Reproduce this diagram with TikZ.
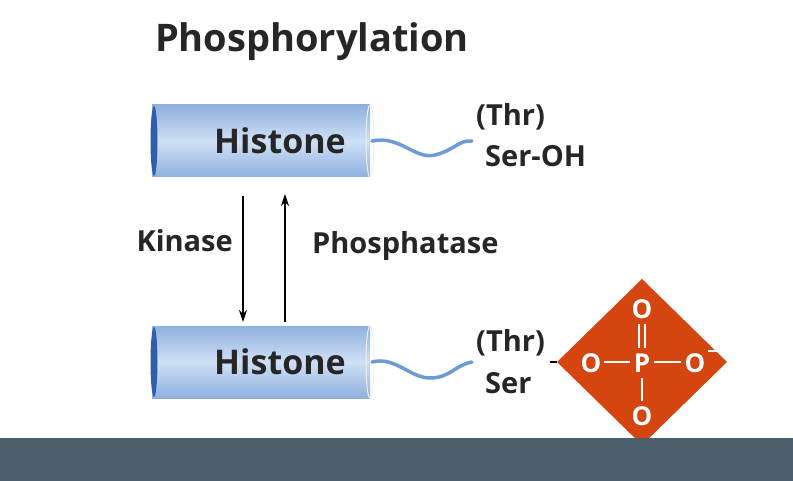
\documentclass[tikz,border=0pt]{standalone}
\usepackage{fontspec}
\setmainfont{Open Sans}
\usetikzlibrary{arrows.meta}
\definecolor{cylA}{HTML}{8FB0DE}
\definecolor{cylB}{HTML}{CFE0F6}
\definecolor{cylEnd}{HTML}{2F5FA8}
\definecolor{tailc}{HTML}{6E9AD6}
\definecolor{phos}{HTML}{D4450F}
\definecolor{barc}{HTML}{4E5D6C}
\tikzset{
  lbl/.style={font=\fontsize{29}{32}\selectfont\bfseries, text=black!85, inner sep=0pt},
  tail/.style={line width=3.5pt, color=tailc, line cap=round},
  arr/.style={line width=1.5pt, -{Stealth[length=12pt,width=8pt]}},
  wt/.style={text=white, font=\fontsize{26}{28}\selectfont\bfseries, inner sep=0pt}
}
\newcommand{\histone}[2]{%
  \shade[top color=cylA, bottom color=cylA, middle color=cylB] (152,#1-36) rectangle (370,#1+36);
  \draw[white!80!cylA, line width=1pt] (370,#1) ellipse (4 and 36);
  \fill[cylEnd] (154,#1) ellipse (3.5 and 35);
  \node[lbl, font=\fontsize{34}{36}\selectfont\bfseries] (#2) at (280,#1) {Histone};
}
\begin{document}
\begin{tikzpicture}[x=1pt,y=-1pt]
\useasboundingbox (0,0) rectangle (793,481);
\fill[white] (0,0) rectangle (793,481);
\node[lbl, font=\fontsize{38}{42}\selectfont\bfseries] (title) at (312,42) {Phosphorylation};
\histone{141}{h1}
\histone{362}{h2}
\coordinate (t1a) at (372,141); \coordinate (t1b) at (472,141);
\draw[tail] (t1a) .. controls (400,135) and (415,160) .. (435,155) .. controls (455,150) and (458,140) .. (t1b);
\coordinate (t2a) at (372,362); \coordinate (t2b) at (472,362);
\draw[tail] (t2a) .. controls (395,356) and (410,378) .. (430,378) .. controls (450,378) and (455,365) .. (t2b);
\node[lbl, anchor=west] (thr1) at (476,117) {(Thr)};
\node[lbl, anchor=west] (ser1) at (485,156) {Ser-OH};
\node[lbl, anchor=west] (thr2) at (476,343) {(Thr)};
\node[lbl, anchor=west] (ser2) at (485,383) {Ser};
\coordinate (k1) at (243,196); \coordinate (k2) at (243,322);
\coordinate (p1) at (285,322); \coordinate (p2) at (285,194);
\draw[arr] (k1) -- (k2);
\draw[arr] (p1) -- (p2);
\node[lbl, anchor=east] (kin) at (233,241) {Kinase};
\node[lbl, anchor=west] (pho) at (312,246) {Phosphatase};
\fill[phos] (642,279) -- (727,362) -- (642,445) -- (557,362) -- cycle;
\fill[barc] (0,438) rectangle (793,481);
\coordinate (d) at (557,362);
\draw[line width=1.2pt] (550,362) -- (d);
\node[wt] (o1) at (591,363) {O};
\node[wt] (p) at (642,363) {P};
\node[wt] (o2) at (695,363) {O};
\node[wt] (o3) at (642,309) {O};
\node[wt] (o4) at (642,416) {O};
\draw[white, line width=1.3pt] (604,362) -- (630,362) (654,362) -- (681,362);
\draw[white, line width=1.3pt] (639,324) -- (639,348) (645,324) -- (645,348);
\draw[white, line width=1.3pt] (642,378) -- (642,401);
\draw[white, line width=1.3pt] (708,351) -- (717,351);
\end{tikzpicture}
\end{document}
